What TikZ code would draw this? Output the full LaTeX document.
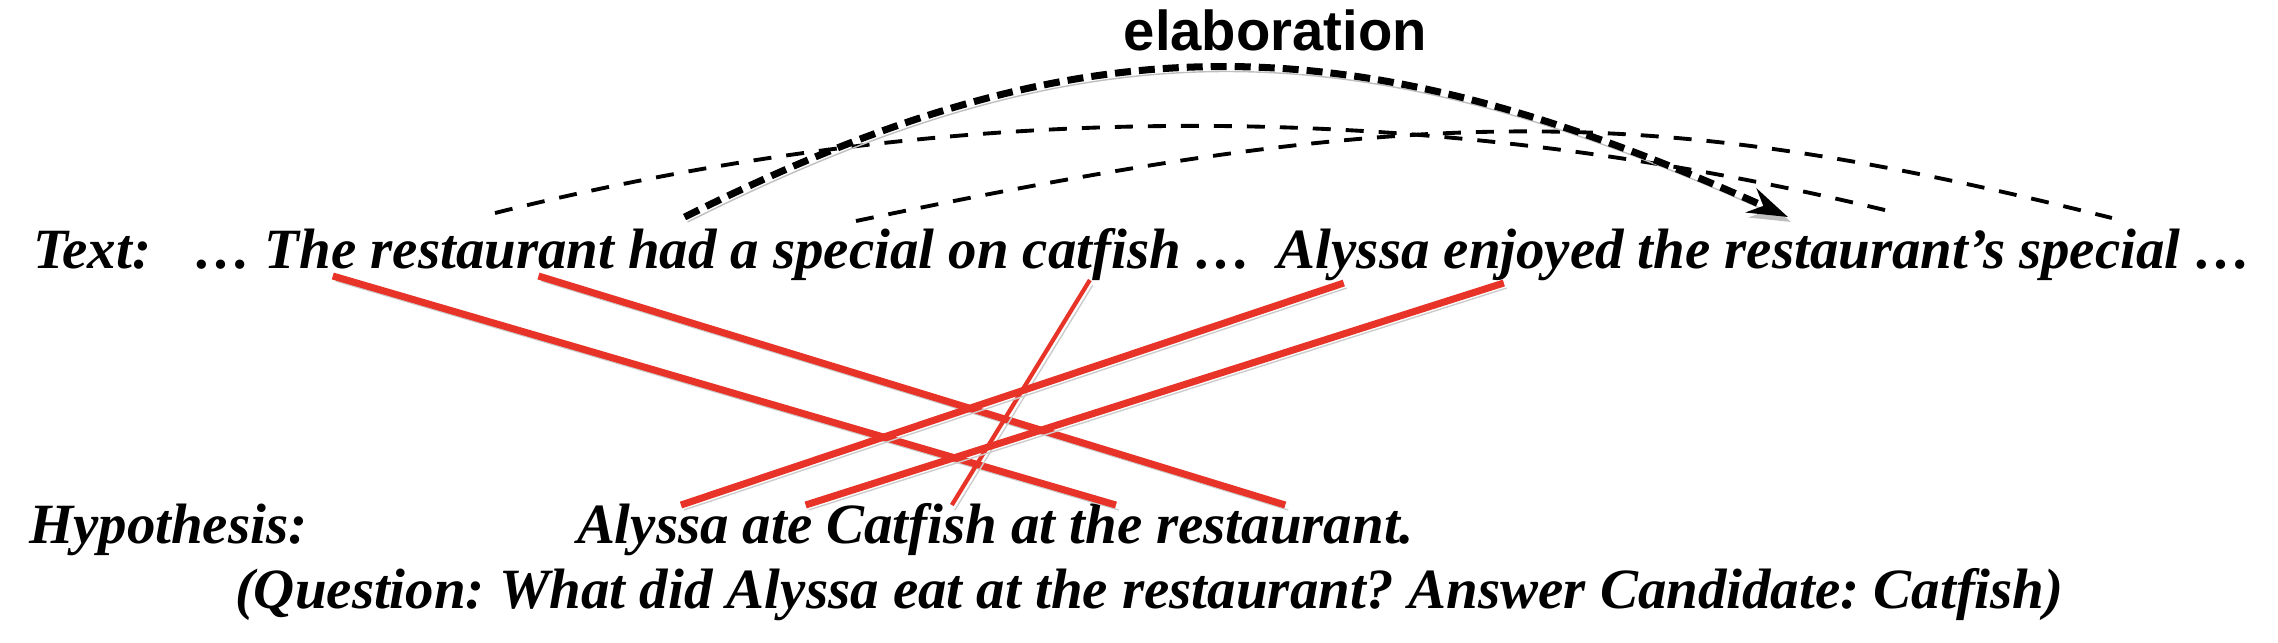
\documentclass[tikz,border=0pt]{standalone}
\usepackage{fontspec}
\setmainfont{Liberation Serif}
\newfontfamily\elabfont{Liberation Sans}
\usepackage{tikz}
\usetikzlibrary{arrows.meta,positioning}
\definecolor{linkred}{RGB}{232,52,40}
\newcommand\wordfont{\fontsize{16.2pt}{19pt}\selectfont\bfseries\itshape}
\frenchspacing

\begin{document}
\begin{tikzpicture}[x=0.1mm,y=-0.1mm,>={Stealth[length=4mm,width=2.6mm]},
  word/.style={inner sep=0pt,outer sep=0pt,text height=3.8mm,text depth=0.8mm,font=\wordfont},
  gap/.style={base right=1.4mm of #1},
  linkline/.style={linkred,line width=2pt,
    preaction={draw=black!20,transform canvas={shift={(0.3mm,-0.5mm)}}}},
  simdash/.style={line width=1.1pt,dash pattern=on 1.8mm off 1.5mm},
  elabdash/.style={line width=2pt,dash pattern=on 1.6mm off 0.8mm,
    preaction={draw=black!25,transform canvas={shift={(0.3mm,-0.5mm)}}}},
  elab/.style={inner sep=0pt,font=\elabfont\fontsize{16pt}{19pt}\selectfont\bfseries}]
  \useasboundingbox (0,0) rectangle (2278,642);

  % Text line
  \node[word,anchor=base west] (tLabel)    at (33,268)  {Text:};
  \node[word,anchor=base west] (tDotsA)    at (194,268) {…};
  \node[word,gap=tDotsA]       (tThe)      {The};
  \node[word,gap=tThe]         (tRest)     {restaurant};
  \node[word,gap=tRest]        (tHad)      {had};
  \node[word,gap=tHad]         (tA)        {a};
  \node[word,gap=tA]           (tSpecial)  {special};
  \node[word,gap=tSpecial]     (tOn)       {on};
  \node[word,gap=tOn]          (tCatfish)  {catfish};
  \node[word,gap=tCatfish]     (tDotsB)    {…};
  \node[word,base right=2.6mm of tDotsB] (tAlyssa) {Alyssa};
  \node[word,gap=tAlyssa]      (tEnjoyed)  {enjoyed};
  \node[word,gap=tEnjoyed]     (tThe2)     {the};
  \node[word,gap=tThe2]        (tRests)    {restaurant’s};
  \node[word,gap=tRests]       (tSpecial2) {special};
  \node[word,gap=tSpecial2]    (tDotsC)    {…};

  % Hypothesis line
  \node[word,anchor=base west] (hLabel)    at (29,543)  {Hypothesis:};
  \node[word,anchor=base west] (hAlyssa)   at (577,543) {Alyssa};
  \node[word,gap=hAlyssa]      (hAte)      {ate};
  \node[word,gap=hAte]         (hCatfish)  {Catfish};
  \node[word,gap=hCatfish]     (hAt)       {at};
  \node[word,gap=hAt]          (hThe)      {the};
  \node[word,gap=hThe]         (hRest)     {restaurant.};
  \node[word,anchor=base west] (question)  at (235,608)
    {(Question: What did Alyssa eat at the restaurant? Answer Candidate: Catfish)};

  % Alignments
  \draw[linkline] ([xshift=2.2mm]tThe.south) -- ([xshift=1mm]hThe.north);
  \draw[linkline] ([xshift=4.6mm]tRest.south) -- (hRest.north);
  \draw[linkline,line width=1.2pt] ([xshift=-1.2mm,yshift=-0.4mm]tCatfish.south) -- ([xshift=4mm]hCatfish.north);
  \draw[linkline] ([xshift=-1mm,yshift=-0.7mm]tAlyssa.south) -- ([xshift=2.8mm]hAlyssa.north);
  \draw[linkline] ([xshift=-3mm,yshift=-0.7mm]tEnjoyed.south) -- ([xshift=2.8mm]hAte.north);

  % Coreference and discourse relation
  \draw[simdash] ([xshift=0.25mm,yshift=1.7mm]tRest.north)
    .. controls +(465,-116) and +(-471,-115) .. ([xshift=2.8mm,yshift=1.8mm]tRests.north);
  \draw[simdash] ([xshift=0.2mm,yshift=0.9mm]tSpecial.north)
    .. controls +(567,-119) and +(-464,-116) .. ([xshift=1.2mm,yshift=1.2mm]tSpecial2.north);
  \draw[elabdash,->] ([xshift=1.2mm,yshift=1.3mm]tHad.north)
    .. controls +(398,-199) and +(-442,-199) .. node[elab,pos=0.52,above=1.3mm,xshift=3.5mm] (elab) {elaboration}
    ([xshift=-7.7mm,yshift=1.3mm]tRests.north);
\end{tikzpicture}
\end{document}
